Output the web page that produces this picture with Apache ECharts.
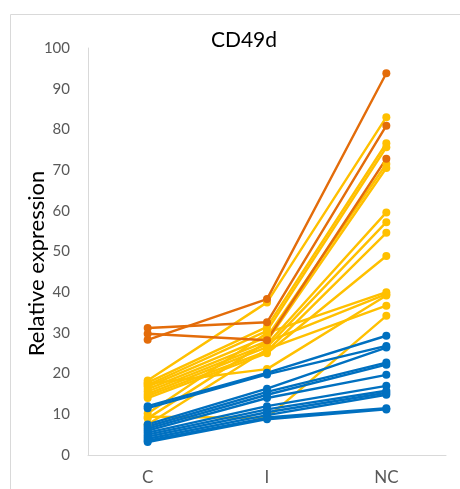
<!DOCTYPE html>
<html>
<head>
<meta charset="utf-8">
<script src="https://cdn.jsdelivr.net/npm/echarts@6/dist/echarts.min.js"></script>
<style>html,body{margin:0;padding:0;background:#fff}#c{width:460px;height:489px}</style>
</head>
<body>
<div id="c"></div>
<script>
const categories = ['C', 'I', 'NC'];
const yTicks = [0, 100, 10];
const orangeLines = [
  [28.3, 38.3, 93.8],
  [31.2, 32.6, 80.9],
  [29.8, 28.2, 72.8]
];
const yellowLines = [
  [18.3, 37.5, 83.0],
  [17.8, 31.5, 76.6],
  [17.2, 30.5, 75.6],
  [16.8, 29.0, 71.5],
  [16.2, 28.0, 70.5],
  [15.6, 27.2, 59.6],
  [15.0, 26.5, 57.2],
  [14.5, 25.5, 54.6],
  [14.0, 25.0, 48.9],
  [10.2, 30.0, 40.0],
  [9.0, 27.8, 39.5],
  [17.5, 21.1, 39.2],
  [7.5, 26.0, 36.7],
  [9.4, 9.1, 34.2]
];
const blueLines = [
  [12.0, 20.2, 29.3],
  [11.5, 19.8, 26.8],
  [7.5, 16.3, 26.4],
  [7.0, 15.5, 22.7],
  [6.5, 14.8, 22.2],
  [6.0, 14.0, 19.7],
  [5.5, 12.0, 17.0],
  [5.0, 11.2, 15.8],
  [4.5, 10.5, 15.3],
  [4.0, 9.8, 14.8],
  [3.5, 9.2, 11.5],
  [3.2, 8.8, 11.2]
];

function mk(data, color) {
  return {
    type: 'line', data: data, symbol: 'circle', symbolSize: 8,
    lineStyle: { color: color, width: 2.4 },
    itemStyle: { color: color },
    emphasis: { disabled: true }, animation: false
  };
}
const series = []
  .concat(yellowLines.map(d => mk(d, '#FFC000')))
  .concat(blueLines.map(d => mk(d, '#0070C0')))
  .concat(orangeLines.map(d => mk(d, '#E36C0A')));

const chart = echarts.init(document.getElementById('c'));
chart.setOption({
  animation: false,
  textStyle: { fontFamily: 'Lato' },
  graphic: [{ type: 'rect', shape: { x: 10.5, y: 14.5, width: 470, height: 500 },
    style: { fill: 'none', stroke: '#D9D9D9', lineWidth: 1 }, silent: true }],
  title: { text: 'CD49d', left: 239, top: 25, textAlign: 'center',
    textStyle: { fontFamily: 'Lato', fontSize: 21, fontWeight: 'normal', color: '#000' } },
  grid: { left: 88, right: 14, top: 48, bottom: 34 },
  xAxis: {
    type: 'category', data: categories, boundaryGap: true,
    axisLine: { lineStyle: { color: '#D9D9D9', width: 1 } },
    axisTick: { show: false },
    axisLabel: { color: '#595959', fontSize: 17, margin: 14, fontFamily: 'Lato' }
  },
  yAxis: {
    type: 'value', min: yTicks[0], max: yTicks[1], interval: yTicks[2],
    name: 'Relative expression', nameLocation: 'middle', nameRotate: 90, nameGap: 40,
    nameMoveOverlap: false,
    nameTextStyle: { fontSize: 22, color: '#000', fontFamily: 'Lato', padding: [0, 24, 0, 0] },
    axisLine: { show: true, lineStyle: { color: '#D9D9D9', width: 1 } },
    axisTick: { show: false },
    splitLine: { show: false },
    axisLabel: { color: '#595959', fontSize: 15, margin: 18, fontFamily: 'Lato' }
  },
  series: series
});
</script>
</body>
</html>
